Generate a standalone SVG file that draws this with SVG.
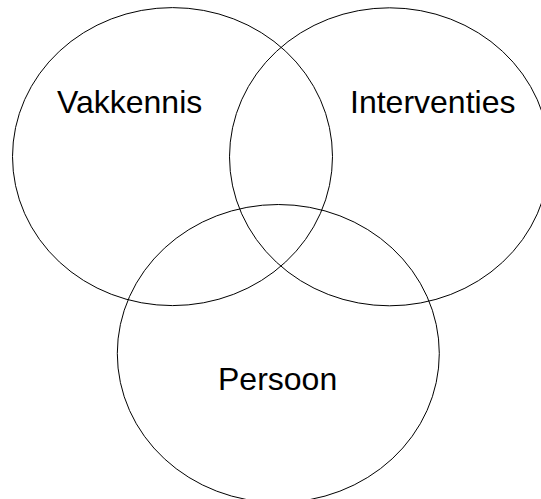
<svg xmlns="http://www.w3.org/2000/svg" width="541" height="499" viewBox="0 0 541 499">
<style>
.c{fill:none;stroke:#000;stroke-width:1}
.t{font-family:"Liberation Sans",Arial,sans-serif;font-size:32px;fill:#000}
</style>
<rect width="541" height="499" fill="#fff"/>
<g id="vakkennis"><ellipse class="c" cx="172.5" cy="156.6" rx="160" ry="149"/><text class="t" x="57" y="113">Vakkennis</text></g>
<g id="interventies"><ellipse class="c" cx="389.5" cy="156.8" rx="160" ry="149"/><text class="t" x="350" y="113">Interventies</text></g>
<g id="persoon"><ellipse class="c" cx="278.3" cy="353.5" rx="161" ry="149"/><text class="t" x="218" y="390">Persoon</text></g>
<g id="connectors"/>
</svg>
